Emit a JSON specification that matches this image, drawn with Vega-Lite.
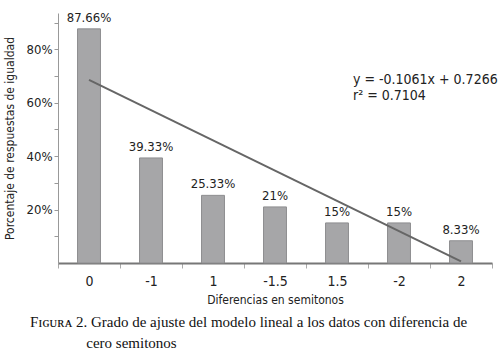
{
  "$schema": "https://vega.github.io/schema/vega-lite/v6.json",
  "width": 434,
  "height": 250,
  "autosize": "none",
  "padding": {"left": 58, "top": 13, "right": 8, "bottom": 98},
  "background": "white",
  "config": {
    "view": {"stroke": null},
    "font": "DejaVu Sans Condensed, Liberation Sans, sans-serif",
    "axis": {"grid": false, "labelColor": "#222", "titleColor": "#222", "labelFont": "DejaVu Sans Condensed, Liberation Sans, sans-serif", "titleFont": "DejaVu Sans Condensed, Liberation Sans, sans-serif", "titleFontWeight": "normal"}
  },
  "title": {
    "text": ["Fɪɢᴜʀᴀ 2. Grado de ajuste del modelo lineal a los datos con diferencia de", "\u200b\u00a0\u00a0\u00a0\u00a0\u00a0\u00a0\u00a0\u00a0\u00a0\u00a0\u00a0\u00a0\u00a0\u00a0\u00a0cero semitonos"],
    "orient": "bottom",
    "anchor": "start",
    "frame": "group",
    "dx": -28,
    "offset": 10,
    "font": "Liberation Serif",
    "fontSize": 15,
    "fontWeight": "normal",
    "color": "#111",
    "lineHeight": 21
  },
  "datasets": {
    "bars": [
      {"dif": "0", "pct": 0.8766},
      {"dif": "-1", "pct": 0.3933},
      {"dif": "1", "pct": 0.2533},
      {"dif": "-1.5", "pct": 0.21},
      {"dif": "1.5", "pct": 0.15},
      {"dif": "-2", "pct": 0.15},
      {"dif": "2", "pct": 0.0833}
    ],
    "fit": [
      {"dif": "0", "pct": 0.686},
      {"dif": "2", "pct": 0.006}
    ],
    "eq": [
      {"dif": "1.5", "pct": 0.685, "t": "y  = -0.1061x + 0.7266"},
      {"dif": "1.5", "pct": 0.625, "t": "r² =  0.7104"}
    ]
  },
  "encoding": {
    "x": {
      "field": "dif", "type": "nominal",
      "scale": {"domain": ["0", "-1", "1", "-1.5", "1.5", "-2", "2"], "paddingInner": 0, "paddingOuter": 0},
      "axis": {"title": "Diferencias en semitonos", "labelAngle": 0, "labelFontSize": 14, "labelPadding": 6, "titleFontSize": 12, "titlePadding": 6, "tickBand": "extent", "domainColor": "#777", "domainWidth": 2, "tickColor": "#aaa", "tickSize": 5}
    },
    "y": {
      "field": "pct", "type": "quantitative",
      "scale": {"domain": [0, 0.936], "nice": false},
      "axis": {"title": "Porcentaje de respuestas de igualdad", "values": [0.1, 0.2, 0.3, 0.4, 0.5, 0.6, 0.7, 0.8, 0.9], "labelExpr": "round(datum.value*10)%2==0 ? format(datum.value, '.0%') : ''", "labelFontSize": 13, "titleFontSize": 12, "titlePadding": 10, "domainColor": "#999", "tickColor": "#999", "tickSize": 4}
    }
  },
  "layer": [
    {
      "data": {"name": "bars"},
      "mark": {"type": "bar", "width": {"band": 0.37}, "color": "#a6a6a8", "stroke": "#8e8e90", "strokeWidth": 1}
    },
    {
      "data": {"name": "bars"},
      "mark": {"type": "text", "baseline": "bottom", "dy": -4, "fontSize": 13, "color": "#222"},
      "encoding": {"text": {"field": "pct", "type": "quantitative", "format": ".2~%"}}
    },
    {
      "data": {"name": "fit"},
      "mark": {"type": "line", "color": "#666666", "strokeWidth": 2}
    },
    {
      "data": {"name": "eq"},
      "mark": {"type": "text", "align": "left", "baseline": "middle", "dx": 16, "fontSize": 14, "color": "#222"},
      "encoding": {"text": {"field": "t", "type": "nominal"}}
    }
  ]
}
